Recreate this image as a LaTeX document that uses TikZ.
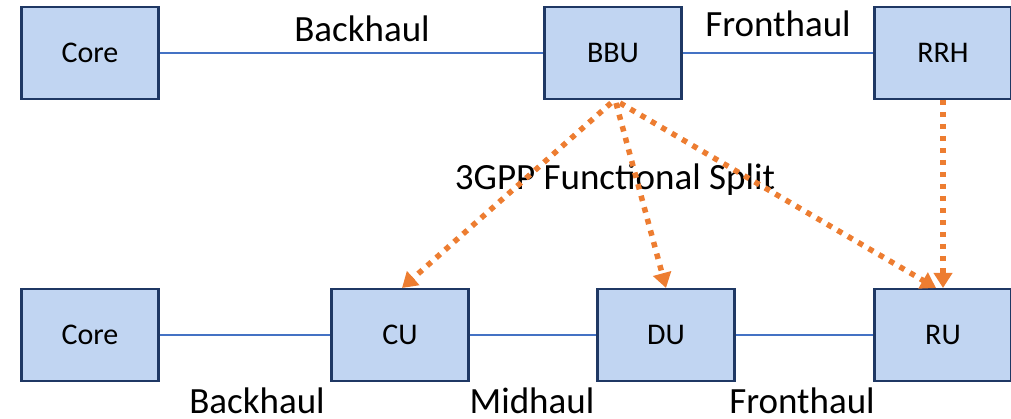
\documentclass[tikz,border=0pt]{standalone}
\usepackage{fontspec}
\setmainfont{Carlito}
\usetikzlibrary{arrows.meta}
\definecolor{boxfill}{RGB}{193,213,242}
\definecolor{boxline}{RGB}{31,56,100}
\definecolor{linkline}{RGB}{68,114,196}
\definecolor{splitorange}{RGB}{237,125,49}
\begin{document}
\begin{tikzpicture}[x=1pt,y=-1pt,
  unit/.style={draw=boxline, fill=boxfill, line width=2.5pt,
    minimum width=137pt, minimum height=92pt, inner sep=0pt,
    font=\fontsize{30}{36}\selectfont},
  link/.style={draw=linkline, line width=1.5pt},
  lbl/.style={font=\fontsize{37}{44}\selectfont, inner sep=0pt, anchor=base},
  split/.style={draw=splitorange, line width=5.5pt,
    dash pattern=on 5.5pt off 6.5pt,
    -{Triangle[length=15pt,width=18pt]}}]
  \useasboundingbox (0,0) rectangle (1011,419);

  % classic RAN: Core - BBU - RRH
  \node[unit] (core1) at (90,53) {Core};
  \node[unit] (bbu)   at (613,53) {BBU};
  \node[unit] (rrh)   at (943,53) {RRH};

  % split RAN: Core - CU - DU - RU
  \node[unit] (core2) at (90,335) {Core};
  \node[unit] (cu)    at (400,335) {CU};
  \node[unit] (du)    at (666,335) {DU};
  \node[unit] (ru)    at (943,335) {RU};

  % transport links
  \draw[link] (core1) -- (bbu);
  \draw[link] (bbu) -- (rrh);
  \draw[link] (core2) -- (cu);
  \draw[link] (cu) -- (du);
  \draw[link] (du) -- (ru);

  % link labels
  \node[lbl] (bh1) at (362,42) {Backhaul};
  \node[lbl] (fh1) at (778,37) {Fronthaul};
  \node[lbl] (bh2) at (257,413) {Backhaul};
  \node[lbl] (mh2) at (532,413) {Midhaul};
  \node[lbl] (fh2) at (802,413) {Fronthaul};
  \node[lbl] (fs)  at (615,190) {3GPP Functional Split};

  % functional split mapping
  \coordinate (b1) at (611,103);
  \coordinate (b2) at (616,103);
  \coordinate (b3) at (620,103);
  \coordinate (cut) at (402,288);
  \coordinate (dut) at (666,288);
  \coordinate (rut1) at (936,288);
  \coordinate (rrhb) at (943,100);
  \coordinate (rut2) at (943,288);
  \draw[split] (b1) -- (cut);
  \draw[split] (b2) -- (dut);
  \draw[split] (b3) -- (rut1);
  \draw[split] (rrhb) -- (rut2);
\end{tikzpicture}
\end{document}
